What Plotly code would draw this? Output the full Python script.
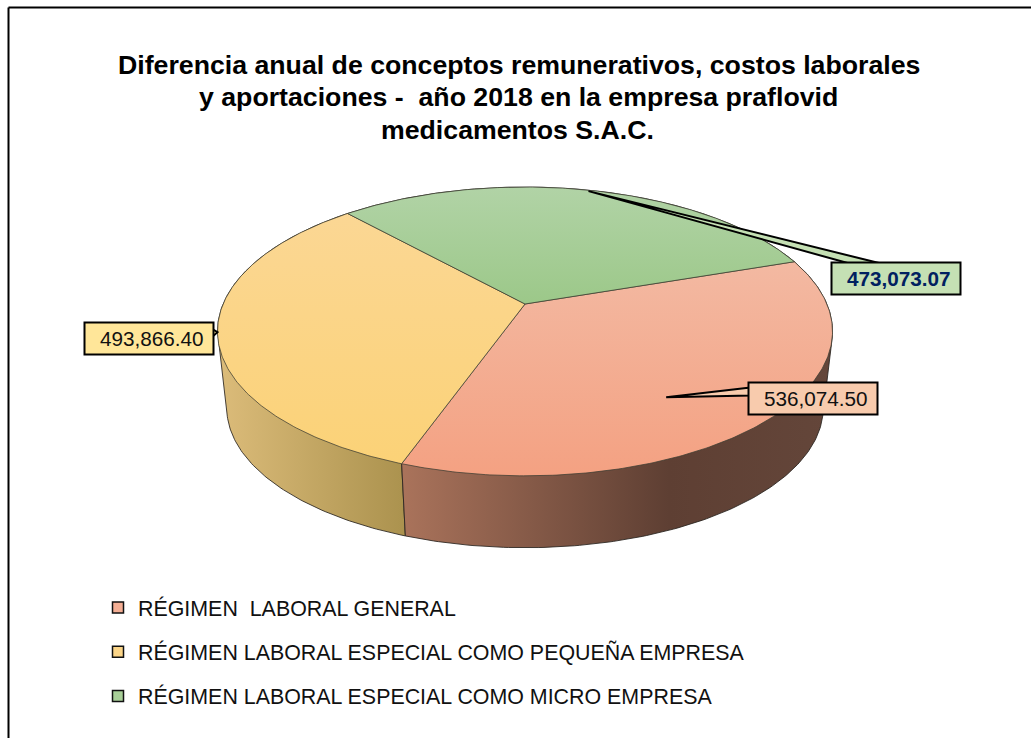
import numpy as np
import plotly.graph_objects as go

# ---- data -------------------------------------------------------------
categories = [
    "RÉGIMEN  LABORAL GENERAL",
    "RÉGIMEN LABORAL ESPECIAL COMO PEQUEÑA EMPRESA",
    "RÉGIMEN LABORAL ESPECIAL COMO MICRO EMPRESA",
]
values = [536074.50, 493866.40, 473073.07]
value_labels = ["536,074.50", "493,866.40", "473,073.07"]
title_lines = [
    "Diferencia anual de conceptos remunerativos, costos laborales",
    "y aportaciones -  año 2018 en la empresa praflovid",
    "medicamentos S.A.C.",
]

# ---- styling ------------------------------------------------------------
top_grad = [("#f4a182", "#f3b9a2"), ("#fbd277", "#fbd794"), ("#9cc889", "#b1d3a6")]
side_grad = [
    [[0, "#aa735b"], [0.62, "#5e3f33"], [1, "#64463a"]],
    [[0, "#dcbc7a"], [1, "#ab924e"]],
    [[0, "#7a9a6c"], [1, "#6a8a5c"]],
]
box_fill = ["#f8cbad", "#ffe699", "#c5e0b4"]
swatch = ["#f4ae94", "#fbd588", "#a8cf98"]
label_color = ["#111111", "#111111", "#002060"]
label_bold = [False, False, True]
box_centre = [(813, 398.5), (149, 338.5), (896, 278.5)]
box_size = (129, 32)
label_shift = 2.5
tip_radius = [0.725, 1.0, 0.99]
tip_turn_deg = [-9.7, 0.0, 0.0]
title_x = [519, 518, 517]
title_y = [65, 97, 130]
font = "Liberation Sans, Arial, sans-serif"

# ---- projection of the tilted disc --------------------------------------
CX, CY_TOP, CY_BOT = 525.0, 304.0, 381.0
A, B, K = 301.9, 139.2, 0.19
BOT_SCALE = 0.97
START_DEG = 18.8  # where the first slice starts, going clockwise


def project(t, r=1.0, bottom=False):
    c, s = r * np.cos(t), r * np.sin(t)
    d = 1 + K * s
    if bottom:
        return CX + BOT_SCALE * A * c / d, CY_BOT - BOT_SCALE * B * s / d
    return CX + A * c / d, CY_TOP - B * s / d


def hull(x, y):
    """Convex outline of a slice's top and bottom arcs (its extruded wall)."""
    pts = sorted(set(zip(x.tolist(), y.tolist())))

    def half(seq):
        out = []
        for p in seq:
            while len(out) > 1 and (
                (out[-1][0] - out[-2][0]) * (p[1] - out[-2][1])
                - (out[-1][1] - out[-2][1]) * (p[0] - out[-2][0])
            ) <= 0:
                out.pop()
            out.append(p)
        return out[:-1]

    ring = half(pts) + half(pts[::-1])
    ring.append(ring[0])
    return [p[0] for p in ring], [p[1] for p in ring]


fractions = np.array(values) / sum(values)
edges = np.radians(START_DEG) - np.concatenate([[0], np.cumsum(fractions)]) * 2 * np.pi

fig = go.Figure()

# side walls, back to front
for i in [2, 1, 0]:
    t = np.linspace(edges[i], edges[i + 1], 160)
    x1, y1 = project(t)
    x2, y2 = project(t, bottom=True)
    x, y = hull(np.concatenate([x1, x2]), np.concatenate([y1, y2]))
    fig.add_trace(go.Scatter(
        x=x, y=y, mode="lines", fill="toself",
        line=dict(color="rgba(40,35,30,0.85)", width=1),
        fillgradient=dict(type="horizontal", colorscale=side_grad[i]),
        hoverinfo="skip", showlegend=False,
    ))

# top faces
for i in range(3):
    t = np.linspace(edges[i], edges[i + 1], 200)
    xa, ya = project(t)
    x = np.concatenate([[CX], xa, [CX]])
    y = np.concatenate([[CY_TOP], ya, [CY_TOP]])
    fig.add_trace(go.Scatter(
        x=x, y=y, mode="lines", fill="toself",
        line=dict(color="rgba(60,60,50,0.75)", width=1),
        fillgradient=dict(type="vertical",
                          colorscale=[[0, top_grad[i][0]], [1, top_grad[i][1]]]),
        hoverinfo="skip", showlegend=False,
    ))

# callouts
annotations = []
shapes = [
    dict(type="line", xref="x", yref="y", x0=8.5, y0=7.5, x1=1031, y1=7.5,
         line=dict(color="#000000", width=2), layer="below"),
    dict(type="line", xref="x", yref="y", x0=8.5, y0=7.5, x1=8.5, y1=738,
         line=dict(color="#000000", width=2), layer="below"),
]
bw, bh = box_size
for i in range(3):
    mid = (edges[i] + edges[i + 1]) / 2 + np.radians(tip_turn_deg[i])
    tx, ty = project(mid, tip_radius[i])
    bx, by = box_centre[i]
    if i == 0:
        base = [(bx - bw / 2 + 2, by - 11), (bx - bw / 2 + 2, by - 3)]
    elif i == 1:
        base = [(bx + bw / 2 - 2, by - 10), (bx + bw / 2 - 2, by - 1)]
    else:
        base = [(bx - 43, by - bh / 2 + 2), (bx - 11, by - bh / 2 + 2)]
    px = [base[0][0], float(tx), base[1][0], base[0][0]]
    py = [base[0][1], float(ty), base[1][1], base[0][1]]
    fig.add_trace(go.Scatter(
        x=px, y=py, mode="lines", fill="toself", fillcolor=box_fill[i],
        line=dict(color="#000000", width=2), hoverinfo="skip", showlegend=False,
    ))
    shapes.append(dict(
        type="rect", xref="x", yref="y", layer="above",
        x0=bx - bw / 2, x1=bx + bw / 2, y0=by - bh / 2, y1=by + bh / 2,
        fillcolor=box_fill[i], line=dict(color="#000000", width=2),
    ))
    annotations.append(dict(
        x=bx + label_shift, y=by, xref="x", yref="y", showarrow=False,
        text=f"<b>{value_labels[i]}</b>" if label_bold[i] else value_labels[i],
        font=dict(family=font, size=20.7, color=label_color[i]),
    ))

# title lines
for line, xx, yy in zip(title_lines, title_x, title_y):
    annotations.append(dict(
        x=xx, y=yy, xref="x", yref="y", showarrow=False, yanchor="middle",
        text=f"<b>{line}</b>",
        font=dict(family=font, size=26.7, color="#000000"),
    ))

# legend
for i, name in enumerate(categories):
    fig.add_trace(go.Scatter(
        x=[None], y=[None], mode="markers", name=name, legendgroup=f"g{i}",
        marker=dict(symbol="square", size=11, color=swatch[i],
                    line=dict(color="#111111", width=1.5)),
    ))

fig.update_layout(
    width=1031, height=738,
    margin=dict(l=0, r=0, t=0, b=0),
    paper_bgcolor="white", plot_bgcolor="white",
    xaxis=dict(visible=False, range=[0, 1031], fixedrange=True),
    yaxis=dict(visible=False, range=[738, 0], fixedrange=True),
    legend=dict(
        x=98 / 1031, y=1 - 587 / 738, xanchor="left", yanchor="top",
        font=dict(family=font, size=21.4, color="#111111"),
        tracegroupgap=13.5, bgcolor="rgba(0,0,0,0)", traceorder="grouped",
    ),
    shapes=shapes,
    annotations=annotations,
)

fig.write_html("out.html", config={"displayModeBar": False},
               post_script="document.body.style.margin='0';")
